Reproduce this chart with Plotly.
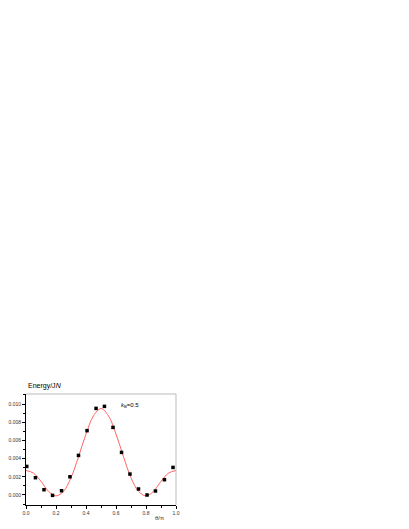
import plotly.graph_objects as go

# measured points (theta/pi, energy/JN)
theta_pts = [0.005, 0.063, 0.12, 0.177, 0.237, 0.293, 0.35, 0.407, 0.467,
             0.523, 0.58, 0.637, 0.693, 0.75, 0.807, 0.863, 0.923, 0.98]
energy_pts = [0.00314, 0.0019, 0.00058, -0.00004, 0.00047, 0.0020, 0.00435, 0.00707, 0.00952,
              0.00974, 0.00743, 0.00468, 0.0023, 0.00066, 0.0000, 0.00044, 0.00168, 0.00303]

# fitted curve
theta_fit = [0.0, 0.05, 0.1, 0.15, 0.2, 0.25, 0.3, 0.35, 0.4, 0.45, 0.5,
             0.55, 0.6, 0.65, 0.7, 0.75, 0.8, 0.85, 0.9, 0.95, 1.0]
energy_fit = [0.0027, 0.0024, 0.0015, 0.0004, -0.0001, 0.0004, 0.0019, 0.0042, 0.0067, 0.0087, 0.0095,
              0.0087, 0.0067, 0.0042, 0.0019, 0.0004, -0.0001, 0.0004, 0.0015, 0.0024, 0.0027]

fig = go.Figure()
fig.add_trace(go.Scatter(x=theta_fit, y=energy_fit, mode="lines", line_shape="spline",
                         line=dict(color="#ff6464", width=1), showlegend=False))
fig.add_trace(go.Scatter(x=theta_pts, y=energy_pts, mode="markers",
                         marker=dict(symbol="square", size=3.5, color="black"), showlegend=False))

fig.update_xaxes(range=[0, 1], tickvals=[0, 0.2, 0.4, 0.6, 0.8, 1.0],
                 ticktext=["0.0", "0.2", "0.4", "0.6", "0.8", "1.0"],
                 ticks="outside", ticklen=3, tickwidth=1, tickcolor="black",
                 minor=dict(ticks="outside", ticklen=2, dtick=0.1, tickcolor="black"),
                 showline=True, linecolor="black", linewidth=1, mirror=False, automargin=False,
                 showgrid=False, zeroline=False, tickfont=dict(size=5, color="#333"))
fig.update_yaxes(range=[-0.0011, 0.0111], tickvals=[0, 0.002, 0.004, 0.006, 0.008, 0.010],
                 ticktext=["0.000", "0.002", "0.004", "0.006", "0.008", "0.010"],
                 ticks="outside", ticklen=3, tickwidth=1, tickcolor="black",
                 minor=dict(ticks="outside", ticklen=2, dtick=0.001, tickcolor="black"),
                 showline=True, linecolor="black", linewidth=1, mirror=False, automargin=False,
                 showgrid=False, zeroline=False, tickfont=dict(size=5, color="#333"))

# light frame on top / right
fig.add_shape(type="line", xref="paper", yref="paper", x0=0, x1=1, y0=1, y1=1,
              line=dict(color="#bbbbbb", width=1))
fig.add_shape(type="line", xref="paper", yref="paper", x0=1, x1=1, y0=0, y1=1,
              line=dict(color="#bbbbbb", width=1))

fig.add_annotation(text="Energy/J<i>N</i>", xref="paper", yref="paper", x=0, y=1,
                   xanchor="left", yanchor="bottom", yshift=2, showarrow=False,
                   font=dict(size=7, color="black"))
fig.add_annotation(text="<i>k</i><sub>B</sub>=0.5", xref="paper", yref="paper", x=0.62, y=0.9,
                   xanchor="left", yanchor="middle", showarrow=False,
                   font=dict(size=6, color="black"))
fig.add_annotation(text="θ/π", xref="paper", yref="paper", x=0.89, y=0,
                   xanchor="center", yanchor="top", yshift=-8, showarrow=False,
                   font=dict(size=6, color="#333"))

fig.update_layout(width=409, height=529, margin=dict(l=18, r=241, t=386, b=32),
                  plot_bgcolor="white", paper_bgcolor="white",
                  font=dict(family="Liberation Sans, Arial, sans-serif"))

fig.write_html("out.html")
